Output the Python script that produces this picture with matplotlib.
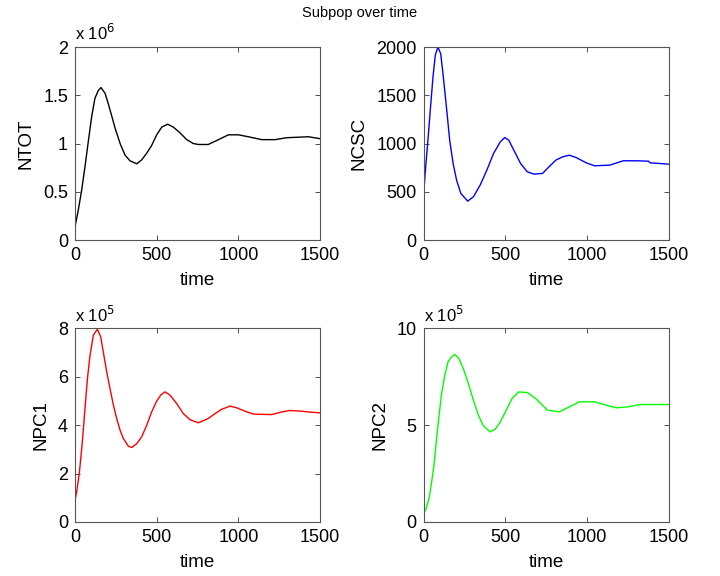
import matplotlib
matplotlib.use("Agg")
import matplotlib.pyplot as plt
from matplotlib.ticker import FuncFormatter

plt.rcParams['font.family'] = ['Liberation Sans', 'DejaVu Sans']

# ---- data ----
t_ntot = [0, 20, 41, 61, 82, 102, 122, 143, 159, 184, 204, 224, 245, 276, 306, 337, 378,
          408, 439, 469, 500, 531, 567, 602, 643, 684, 724, 755, 816, 878, 939, 1000,
          1061, 1143, 1224, 1296, 1429, 1500]
ntot = [0.138, 0.31, 0.52, 0.76, 1.03, 1.28, 1.47, 1.55, 1.58, 1.52, 1.41, 1.29, 1.16,
        1.00, 0.88, 0.82, 0.79, 0.83, 0.90, 0.98, 1.09, 1.17, 1.20, 1.17, 1.11, 1.04,
        1.00, 0.99, 0.99, 1.04, 1.09, 1.09, 1.07, 1.04, 1.04, 1.06, 1.07, 1.05]
ntot = [v * 1e6 for v in ntot]

t_ncsc = [0, 10, 27, 43, 58, 72, 88, 105, 119, 140, 160, 181, 202, 228, 270, 305, 346,
          387, 428, 469, 496, 521, 562, 593, 634, 675, 727, 767, 809, 850, 891, 932,
          994, 1045, 1138, 1169, 1220, 1302, 1374, 1385, 1500]
ncsc = [450, 690, 1034, 1379, 1690, 1914, 2000, 1931, 1724, 1379, 1034, 793, 621, 483,
        403, 448, 569, 724, 897, 1017, 1062, 1034, 897, 793, 707, 683, 690, 759, 828,
        862, 879, 855, 800, 769, 776, 793, 821, 821, 817, 800, 786]

t_npc1 = [0, 10, 27, 43, 61, 76, 92, 112, 137, 157, 173, 194, 214, 235, 255, 276, 296,
          327, 347, 378, 408, 439, 469, 500, 524, 551, 582, 622, 663, 704, 755, 816,
          857, 898, 949, 990, 1041, 1092, 1204, 1265, 1316, 1388, 1429, 1500]
npc1 = [0.9, 1.24, 2.07, 3.17, 4.69, 5.93, 6.9, 7.72, 7.97, 7.66, 7.03, 6.21, 5.52,
        4.83, 4.28, 3.79, 3.45, 3.13, 3.08, 3.24, 3.52, 4.0, 4.55, 5.0, 5.24, 5.38,
        5.24, 4.9, 4.48, 4.23, 4.1, 4.28, 4.48, 4.66, 4.79, 4.72, 4.58, 4.46, 4.44,
        4.55, 4.61, 4.58, 4.55, 4.51]
npc1 = [v * 1e5 for v in npc1]

t_npc2 = [0, 16, 33, 47, 64, 78, 93, 109, 130, 150, 171, 191, 216, 243, 274, 305, 335,
          366, 407, 438, 469, 500, 541, 582, 634, 685, 757, 829, 891, 953, 1045, 1117,
          1179, 1251, 1323, 1500]
npc2 = [0.43, 0.69, 1.2, 1.9, 2.93, 4.14, 5.34, 6.55, 7.59, 8.28, 8.53, 8.66, 8.45,
        7.93, 7.16, 6.29, 5.52, 4.97, 4.66, 4.79, 5.17, 5.69, 6.38, 6.72, 6.69, 6.38,
        5.78, 5.69, 5.95, 6.21, 6.21, 6.03, 5.9, 5.95, 6.07, 6.07]
npc2 = [v * 1e5 for v in npc2]

xticks = [0, 500, 1000, 1500]

panels = [
    # (rect, t, y, color, ylabel, ylim, yticks, scale, exponent)
    ([0.1042, 0.5833, 0.3403, 0.3351], t_ntot, ntot, 'k', 'NTOT', (0, 2e6),
     [0, 0.5e6, 1e6, 1.5e6, 2e6], 1e6, '6'),
    ([0.5882, 0.5833, 0.3410, 0.3351], t_ncsc, ncsc, (0, 0, 1), 'NCSC', (0, 2000),
     [0, 500, 1000, 1500, 2000], 1, None),
    ([0.1042, 0.0938, 0.3403, 0.3359], t_npc1, npc1, (1, 0, 0), 'NPC1', (0, 8e5),
     [0, 2e5, 4e5, 6e5, 8e5], 1e5, '5'),
    ([0.5882, 0.0938, 0.3410, 0.3359], t_npc2, npc2, (0, 1, 0), 'NPC2', (0, 1e6),
     [0, 5e5, 1e6], 1e5, '5'),
]

fig = plt.figure(figsize=(7.2, 5.76), dpi=100)
fig.text(0.5, 0.978, 'Subpop over time', ha='center', va='center', fontsize=10.5)

for rect, t, y, color, ylabel, ylim, yticks, scale, expo in panels:
    ax = fig.add_axes(rect)
    ax.plot(t, y, color=color, lw=1.0)
    ax.set_xlim(0, 1500)
    ax.set_ylim(*ylim)
    ax.set_xticks(xticks)
    ax.set_yticks(yticks)
    ax.yaxis.set_major_formatter(FuncFormatter(lambda v, p, s=scale: '%g' % (v / s)))
    ax.tick_params(direction='in', top=True, right=True, length=3.5, width=0.6,
                   labelsize=13, pad=5, color='#333333')
    for sp in ax.spines.values():
        sp.set_color('#555555')
        sp.set_linewidth(0.8)
    ax.set_xlabel('time', fontsize=13.5, labelpad=6)
    ax.set_ylabel(ylabel, fontsize=13.5, labelpad=6)
    if expo is not None:
        ax.text(0.0, 1.02, r'x 10$^{%s}$' % expo, transform=ax.transAxes,
                ha='left', va='bottom', fontsize=12)

fig.savefig('out.png', dpi=100, facecolor='white')
